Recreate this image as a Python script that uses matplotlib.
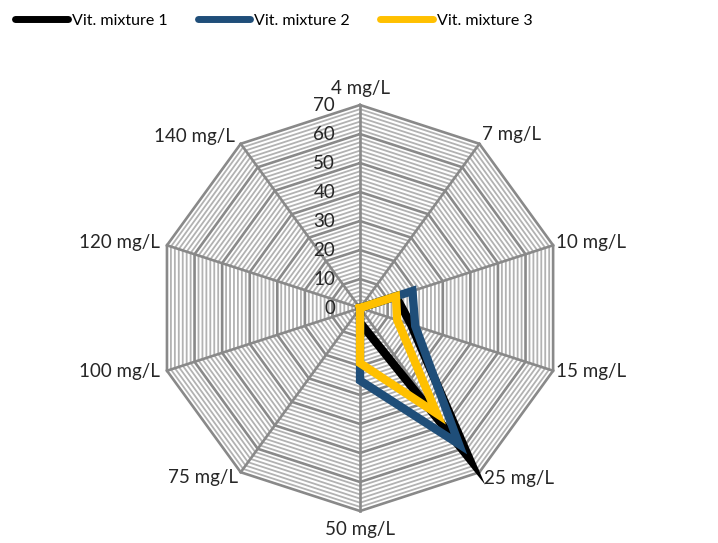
# radar chart of the three vitamin mixtures over concentration

import numpy as np
import matplotlib.pyplot as plt
from matplotlib.lines import Line2D

# data
categories = ['4 mg/L', '7 mg/L', '10 mg/L', '15 mg/L', '25 mg/L',
              '50 mg/L', '75 mg/L', '100 mg/L', '120 mg/L', '140 mg/L']
mix1 = [0, 0, 13, 18.5, 64, 5, 0, 0, 0, 0]
mix2 = [0, 0, 19, 20, 58, 25, 0, 0, 0, 0]
mix3 = [0, 0, 13, 13.5, 45, 19, 0, 0, 0, 0]
series_names = ['Vit. mixture 1', 'Vit. mixture 2', 'Vit. mixture 3']
colors = ['#000000', '#1F4E79', '#FFC000']
r_ticks = [0, 10, 20, 30, 40, 50, 60, 70]

plt.rcParams['font.family'] = ['Lato', 'DejaVu Sans']

fig = plt.figure(figsize=(7.18, 5.43), dpi=100)
ax = fig.add_axes([0.2187, 0.0589, 0.5655, 0.7477], projection='polar')
ax.set_theta_zero_location('N')
ax.set_theta_direction(-1)
ax.set_axis_off()

n = len(categories)
angles = np.arange(n) * 2 * np.pi / n
ang_closed = np.append(angles, angles[0])

# minor rings (7 per major step)
minor_r = np.linspace(0, 70, 50)
for i, r in enumerate(minor_r):
    if i % 7 == 0:
        continue
    ax.plot(ang_closed, [r] * (n + 1), color='#B2B2B2', lw=1.3, zorder=1)

# major rings and spokes
for r in r_ticks[1:]:
    ax.plot(ang_closed, [r] * (n + 1), color='#898989', lw=1.9, zorder=2,
            clip_on=False, solid_joinstyle='miter')
for a in angles:
    ax.plot([a, a], [0, 70], color='#898989', lw=1.9, zorder=2, clip_on=False)

# series
for vals, col in zip([mix1, mix2, mix3], colors):
    v = np.append(vals, vals[0])
    ax.plot(ang_closed, v, color=col, lw=6, solid_joinstyle='miter',
            zorder=4, clip_on=False)

ax.set_ylim(0, 70)

# radial labels
for v in r_ticks:
    ax.annotate(str(v), xy=(0, v), xytext=(-18, 0), textcoords='offset points',
                ha='right', va='center', fontsize=13.5, color='#262626')

# category labels
offsets = [(0, 12), (2, 6.5), (2, 2), (2, -0.7), (3.5, -4.3),
           (0, -13.5), (-2, -3.6), (-5, -0.7), (-5, 2), (-4.3, 5)]
aligns = ['center', 'left', 'left', 'left', 'left',
          'center', 'right', 'right', 'right', 'right']
for a, lab, off, ha in zip(angles, categories, offsets, aligns):
    ax.annotate(lab, xy=(a, 70), xytext=off, textcoords='offset points',
                ha=ha, va='center', fontsize=13.5, color='#262626',
                annotation_clip=False)

# legend
handles = [Line2D([], [], color=c, lw=5, solid_capstyle='round') for c in colors]
fig.legend(handles, series_names, loc='center left', bbox_to_anchor=(0.012, 0.962),
           ncol=3, frameon=False, fontsize=11.5, handlelength=3.3,
           handletextpad=0.25, columnspacing=1.9, borderaxespad=0)

fig.savefig('out.png', dpi=100)
